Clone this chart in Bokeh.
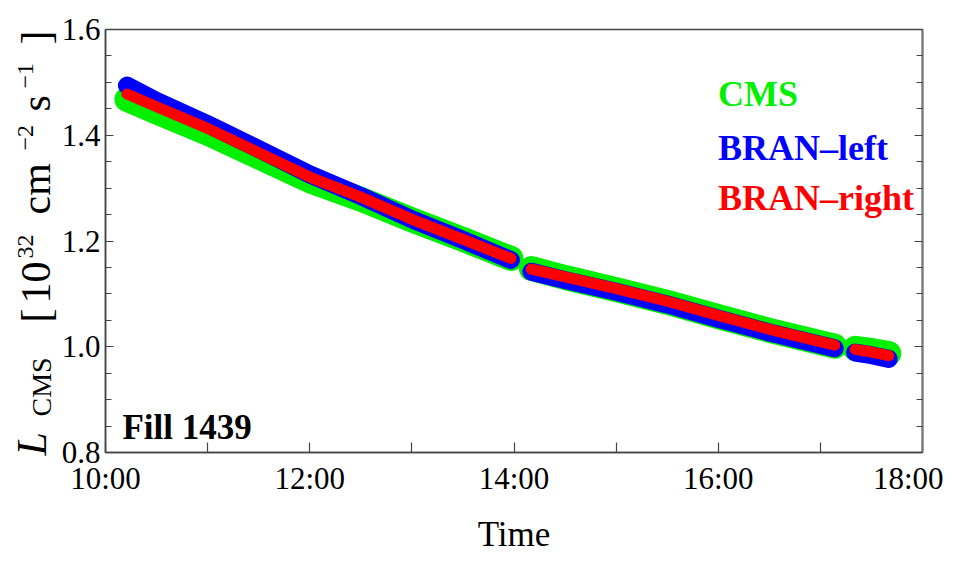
from math import pi
from bokeh.plotting import figure
from bokeh.layouts import row
from bokeh.models import FixedTicker, LinearAxis, Label, Range1d
from bokeh.core.properties import value
from bokeh.embed import file_html
from bokeh.resources import INLINE

# ---- data (hours of the day, luminosity in 1e32 cm^-2 s^-1) ----
time_seg1 = [10.21, 10.5, 11.0, 11.5, 12.0, 12.5, 13.0, 13.5, 13.97]
time_seg2 = [14.17, 14.5, 15.0, 15.5, 16.0, 16.5, 17.14]
time_seg3 = [17.34, 17.5, 17.67]

cms_seg1 = [1.468, 1.444, 1.404, 1.359, 1.314, 1.279, 1.240, 1.203, 1.167]
cms_seg2 = [1.148, 1.131, 1.108, 1.084, 1.057, 1.031, 1.001]
cms_seg3 = [0.997, 0.993, 0.987]

left_seg1 = [1.494, 1.465, 1.421, 1.374, 1.326, 1.285, 1.241, 1.202, 1.164]
left_seg2 = [1.142, 1.126, 1.104, 1.080, 1.053, 1.027, 0.997]
left_seg3 = [0.989, 0.984, 0.977]

right_seg1 = [1.478, 1.454, 1.413, 1.367, 1.321, 1.283, 1.241, 1.203, 1.167]
right_seg2 = [1.147, 1.132, 1.110, 1.086, 1.059, 1.033, 1.003]
right_seg3 = [0.995, 0.990, 0.983]

x_ticks = [10, 12, 14, 16, 18]
x_tick_labels = ["10:00", "12:00", "14:00", "16:00", "18:00"]
x_minor_ticks = [11, 13, 15, 17]
y_ticks = [0.8, 1.0, 1.2, 1.4, 1.6]
y_tick_labels = ["0.8", "1.0", "1.2", "1.4", "1.6"]
y_minor_ticks = [0.85, 0.9, 0.95, 1.05, 1.1, 1.15, 1.25, 1.3, 1.35, 1.45, 1.5, 1.55]

series_names = ["CMS", "BRAN\u2013left", "BRAN\u2013right"]
series_colors = ["#00F000", "#0000FF", "#FF0000"]

SERIF = "Liberation Serif"
LABEL_W = 58
MAIN_W = 885

p = figure(width=MAIN_W, height=563, x_range=(10, 18), y_range=(0.8, 1.6),
           output_backend="svg", toolbar_location=None,
           min_border_left=103 - LABEL_W, min_border_right=MAIN_W + LABEL_W - 922,
           min_border_top=29, min_border_bottom=111)
p.frame_align = False
p.xgrid.visible = False
p.ygrid.visible = False
p.outline_line_color = "#444444"
p.outline_line_width = 1.5
p.background_fill_color = "white"
p.border_fill_color = "white"

# ---- series ----
groups = [
    ([cms_seg1, cms_seg2, cms_seg3], series_colors[0], 25),
    ([left_seg1, left_seg2, left_seg3], series_colors[1], 18),
    ([right_seg1, right_seg2, right_seg3], series_colors[2], 11),
]
times = [time_seg1, time_seg2, time_seg3]
for segs, color, w in groups:
    for t, v in zip(times, segs):
        p.line(t, v, line_color=color, line_width=w,
               line_cap="round", line_join="round")

# ---- axes ----
xax = p.xaxis[0]
xax.ticker = FixedTicker(ticks=x_ticks, minor_ticks=x_minor_ticks)
xax.major_label_overrides = dict(zip(x_ticks, x_tick_labels))
xax.major_tick_in = 10
xax.major_tick_out = 0
xax.minor_tick_in = 10
xax.minor_tick_out = 0
xax.major_label_standoff = 8
xax.major_label_text_font = SERIF
xax.major_label_text_font_size = "31px"
xax.major_label_text_color = "black"
xax.axis_label = "Time"
xax.axis_label_text_font = SERIF
xax.axis_label_text_font_size = "35px"
xax.axis_label_text_font_style = "normal"
xax.axis_label_text_color = "black"
xax.axis_label_standoff = 16
xax.axis_line_color = "#444444"
xax.axis_line_width = 1.5
xax.major_tick_line_color = "#444444"
xax.minor_tick_line_color = "#444444"
xax.major_tick_line_width = 1.2
xax.minor_tick_line_width = 1.2

yax = p.yaxis[0]
yax.ticker = FixedTicker(ticks=y_ticks, minor_ticks=y_minor_ticks)
yax.major_label_overrides = dict(zip(y_ticks, y_tick_labels))
yax.major_tick_in = 8
yax.major_tick_out = 0
yax.minor_tick_in = 6
yax.minor_tick_out = 0
yax.major_label_standoff = 5
yax.major_label_text_font = SERIF
yax.major_label_text_font_size = "31px"
yax.major_label_text_color = "black"
yax.axis_line_color = "#444444"
yax.axis_line_width = 1.5
yax.major_tick_line_color = "#444444"
yax.minor_tick_line_color = "#444444"
yax.major_tick_line_width = 1.2
yax.minor_tick_line_width = 1.2

rax = LinearAxis(ticker=FixedTicker(ticks=y_ticks, minor_ticks=y_minor_ticks),
                 major_tick_in=8, major_tick_out=0,
                 minor_tick_in=6, minor_tick_out=0,
                 major_label_text_color=None,
                 major_label_text_font_size="6px",
                 axis_line_color="#777777", axis_line_width=2,
                 major_tick_line_color="#444444", minor_tick_line_color="#444444",
                 major_tick_line_width=1.2, minor_tick_line_width=1.2)
p.add_layout(rax, "right")


# ---- helpers: pixel positions of annotations -> data coordinates ----
def dx(px):
    return 10 + (px - 103) / 102.375


def dy(py):
    return 0.8 + (452 - py) / 528.75


def add_text(px, py, text, size, color="black", style="normal"):
    p.add_layout(Label(x=dx(px), y=dy(py), text=text, text_font=SERIF,
                       text_font_size=size, text_color=color,
                       text_font_style=style,
                       text_align="left", text_baseline="alphabetic"))


# legend texts
legend_baselines = [93, 147, 197]
for name, color, base in zip(series_names, series_colors, legend_baselines):
    add_text(717, base, name, "36px", color=color, style="bold")

# fill annotation
add_text(120, 427, "Fill 1439", "35px", style="bold")

# ---- separate narrow panel holding the rotated y-axis title ----
lab = figure(width=LABEL_W, height=563, x_range=Range1d(0, LABEL_W),
             y_range=Range1d(563, 0), output_backend="svg",
             toolbar_location=None, min_border=0,
             x_axis_location=None, y_axis_location=None)
lab.frame_align = False
lab.outline_line_color = None
lab.background_fill_color = "white"
lab.border_fill_color = "white"
lab.grid.visible = False

# (line-centre x, start y, text, size, style), text reads bottom-to-top
ylabel_parts = [
    (31, 455, "L", "42px", "italic"),
    (41, 416, "CMS", "28px", "normal"),
    (35, 322, "[", "42px", "normal"),
    (35, 303, "10", "42px", "normal"),
    (25, 258, "32", "24px", "normal"),
    (35, 214, "cm", "42px", "normal"),
    (25, 150, "\u22122", "24px", "normal"),
    (35, 111, "s", "42px", "normal"),
    (25, 88, "\u22121", "24px", "normal"),
    (35, 44, "]", "42px", "normal"),
]
for px, py, txt, size, style in ylabel_parts:
    lab.text(x=[px], y=[py], text=[txt], angle=pi / 2,
             text_font=value(SERIF), text_font_size=size,
             text_font_style=style, text_color="black",
             text_align="left", text_baseline="middle")

layout = row(lab, p, spacing=0)
open("out.html", "w").write(file_html(layout, INLINE))
